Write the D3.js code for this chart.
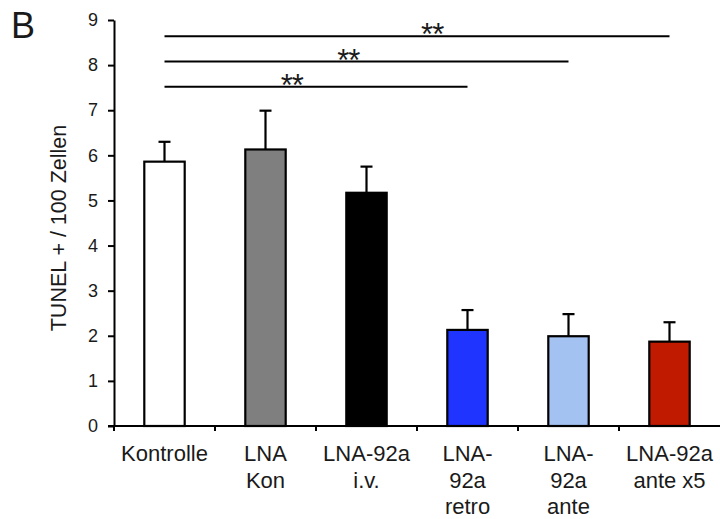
<!DOCTYPE html>
<html>
<head>
<meta charset="utf-8">
<script src="https://cdn.jsdelivr.net/npm/d3@7/dist/d3.min.js"></script>
<style>
  body { margin: 0; background: #fff; }
  svg text { font-family: "Liberation Sans", Arial, Helvetica, sans-serif; fill: #1a1a1a; }
</style>
</head>
<body>
<div id="chart"></div>
<script>
// data
const categories = ["Kontrolle", "LNA Kon", "LNA-92a i.v.", "LNA-92a retro", "LNA-92a ante", "LNA-92a ante x5"];
const labelLines = [["Kontrolle"], ["LNA", "Kon"], ["LNA-92a", "i.v."], ["LNA-", "92a", "retro"], ["LNA-", "92a", "ante"], ["LNA-92a", "ante x5"]];
const means = [5.86, 6.13, 5.17, 2.13, 1.99, 1.87];
const errors = [0.44, 0.86, 0.58, 0.44, 0.49, 0.43];
const barColors = ["#ffffff", "#7f7f7f", "#000000", "#1f35ff", "#a3c2f2", "#c01a00"];
const yTicks = [0, 1, 2, 3, 4, 5, 6, 7, 8, 9];
// significance brackets: from Kontrolle to target, height in y units
const sigFrom = [0, 0, 0];
const sigTo = [3, 4, 5];
const sigLevel = [7.52, 8.08, 8.64];
const sigLabel = ["**", "**", "**"];

const width = 720, height = 519;
const margin = {top: 20, right: 0, bottom: 93, left: 114};
const starPos = [0.42, 0.455, 0.53]; // where the stars sit along each bracket

const svg = d3.select("#chart").append("svg")
    .attr("width", width)
    .attr("height", height);

const x = d3.scaleBand()
    .domain(categories)
    .range([margin.left, width - margin.right])
    .paddingInner(0.6)
    .paddingOuter(0.3);

const y = d3.scaleLinear()
    .domain([0, 9])
    .range([height - margin.bottom, margin.top]);

// panel letter
svg.append("text")
    .attr("x", 11)
    .attr("y", 38)
    .style("font-size", "36px")
    .text("B");

// y axis
const yAxis = svg.append("g")
    .attr("transform", `translate(${margin.left},0)`)
    .call(d3.axisLeft(y).tickValues(yTicks).tickSize(6).tickSizeOuter(0).tickPadding(10));
yAxis.select(".domain").attr("stroke", "#000").attr("stroke-width", 2);
yAxis.selectAll(".tick line").attr("stroke", "#000").attr("stroke-width", 2);
yAxis.selectAll(".tick text").style("font-size", "18px").attr("fill", "#1a1a1a");

svg.append("text")
    .attr("transform", `translate(66,228) rotate(-90)`)
    .attr("text-anchor", "middle")
    .style("font-size", "21.5px")
    .text("TUNEL + / 100 Zellen");

// bars
svg.selectAll(".bar")
    .data(means)
    .join("rect")
    .attr("class", "bar")
    .attr("x", (d, i) => x(categories[i]))
    .attr("width", x.bandwidth())
    .attr("y", d => y(d))
    .attr("height", d => y(0) - y(d))
    .attr("fill", (d, i) => barColors[i])
    .attr("stroke", "#000")
    .attr("stroke-width", 2.2);

// error bars (upper only)
const errG = svg.selectAll(".err")
    .data(means)
    .join("g")
    .attr("class", "err");
errG.append("line")
    .attr("x1", (d, i) => x(categories[i]) + x.bandwidth() / 2)
    .attr("x2", (d, i) => x(categories[i]) + x.bandwidth() / 2)
    .attr("y1", d => y(d))
    .attr("y2", (d, i) => y(d + errors[i]))
    .attr("stroke", "#000")
    .attr("stroke-width", 2.2);
errG.append("line")
    .attr("x1", (d, i) => x(categories[i]) + x.bandwidth() / 2 - 6)
    .attr("x2", (d, i) => x(categories[i]) + x.bandwidth() / 2 + 6)
    .attr("y1", (d, i) => y(d + errors[i]))
    .attr("y2", (d, i) => y(d + errors[i]))
    .attr("stroke", "#000")
    .attr("stroke-width", 2.2);

// x axis: line plus small ticks at the band boundaries
const xAxisG = svg.append("g");
xAxisG.append("line")
    .attr("x1", margin.left - 6)
    .attr("x2", width)
    .attr("y1", y(0))
    .attr("y2", y(0))
    .attr("stroke", "#000")
    .attr("stroke-width", 2);
xAxisG.selectAll(".xtick")
    .data(categories)
    .join("line")
    .attr("class", "xtick")
    .attr("x1", d => x(d) - x.step() * x.paddingOuter())
    .attr("x2", d => x(d) - x.step() * x.paddingOuter())
    .attr("y1", y(0))
    .attr("y2", y(0) + 5)
    .attr("stroke", "#000")
    .attr("stroke-width", 2);

// category labels, multi-line
const lab = svg.selectAll(".xlab")
    .data(categories)
    .join("text")
    .attr("class", "xlab")
    .attr("text-anchor", "middle")
    .style("font-size", "22px");
lab.selectAll("tspan")
    .data((d, i) => labelLines[i].map(t => ({t, c: d})))
    .join("tspan")
    .attr("x", d => x(d.c) + x.bandwidth() / 2)
    .attr("y", (d, j) => 461 + j * 26.5)
    .text(d => d.t);

// significance brackets
const sig = svg.selectAll(".sig")
    .data(sigLevel)
    .join("g")
    .attr("class", "sig");
const cx = i => x(categories[i]) + x.bandwidth() / 2;
sig.append("line")
    .attr("x1", (d, i) => cx(sigFrom[i]))
    .attr("x2", (d, i) => cx(sigTo[i]))
    .attr("y1", d => y(d))
    .attr("y2", d => y(d))
    .attr("stroke", "#000")
    .attr("stroke-width", 2);
sig.append("text")
    .attr("x", (d, i) => cx(sigFrom[i]) + (cx(sigTo[i]) - cx(sigFrom[i])) * starPos[i])
    .attr("y", d => y(d) + 9)
    .attr("text-anchor", "middle")
    .style("font-size", "31px")
    .style("letter-spacing", "-1px")
    .text((d, i) => sigLabel[i]);
</script>
</body>
</html>
